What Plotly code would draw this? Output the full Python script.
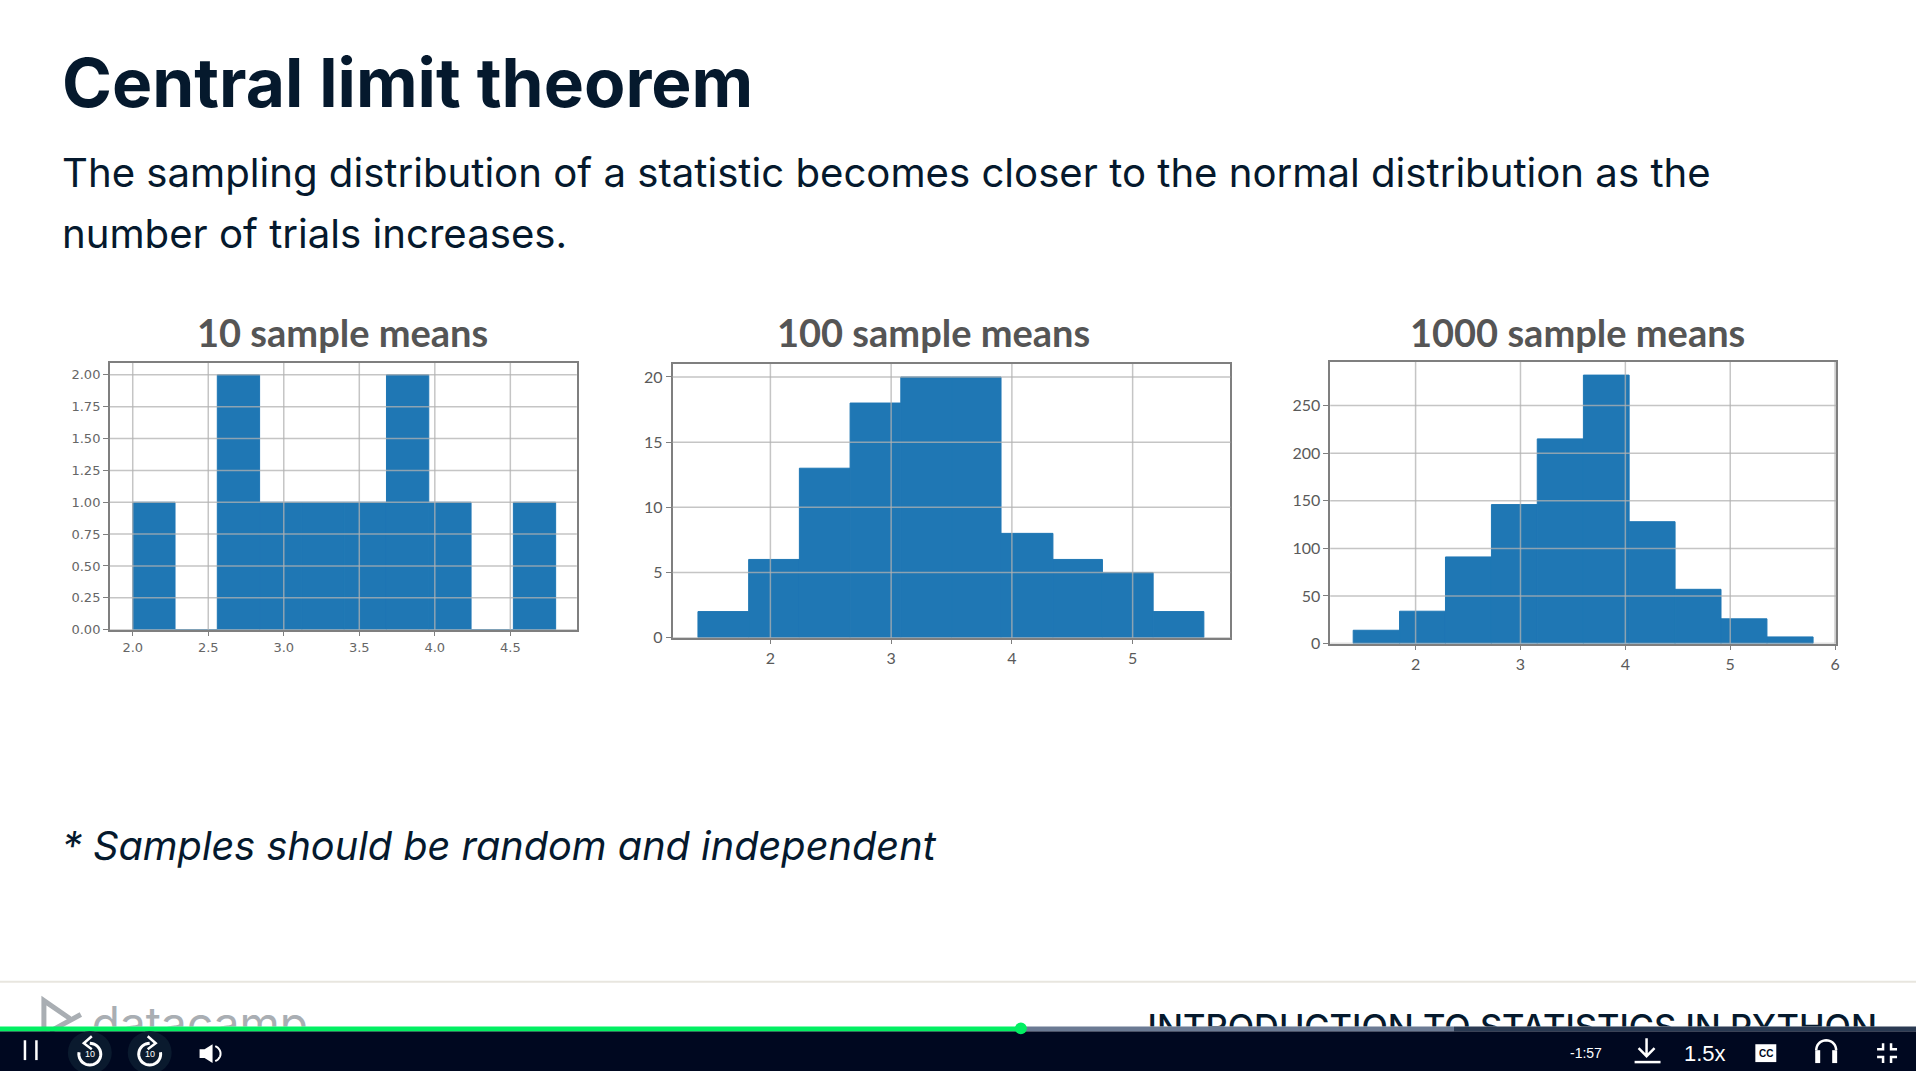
import numpy as np
import plotly.graph_objects as go

# 10 sample means
edges_10 = [2.0, 2.28, 2.56, 2.84, 3.12, 3.40, 3.68, 3.96, 4.24, 4.52, 4.80]
counts_10 = [1, 0, 2, 1, 1, 1, 2, 1, 0, 1]
xticks_10 = [2.0, 2.5, 3.0, 3.5, 4.0, 4.5]
xlabels_10 = ["2.0", "2.5", "3.0", "3.5", "4.0", "4.5"]
yticks_10 = [0, 0.25, 0.5, 0.75, 1, 1.25, 1.5, 1.75, 2]
ylabels_10 = ["0.00", "0.25", "0.50", "0.75", "1.00", "1.25", "1.50", "1.75", "2.00"]

# 100 sample means
edges_100 = [1.40, 1.82, 2.24, 2.66, 3.08, 3.50, 3.91, 4.34, 4.75, 5.17, 5.59]
counts_100 = [2, 6, 13, 18, 20, 20, 8, 6, 5, 2]
xticks_100 = [2, 3, 4, 5]
yticks_100 = [0, 5, 10, 15, 20]

# 1000 sample means
edges_1000 = [1.405, 1.847, 2.285, 2.723, 3.16, 3.60, 4.036, 4.474, 4.912, 5.35, 5.79]
counts_1000 = [14, 34, 91, 146, 215, 282, 128, 57, 26, 7]
xticks_1000 = [2, 3, 4, 5, 6]
yticks_1000 = [0, 50, 100, 150, 200, 250]

W, H = 1920, 1080
BLUE = "#1f77b4"
NAVY = "#05192d"
BAR_DARK = "#000820"
GRID = "rgba(178,178,178,0.75)"

panels = [
    dict(title="10 sample means", edges=edges_10, counts=counts_10,
         xticks=xticks_10, xlabels=xlabels_10, yticks=yticks_10, ylabels=ylabels_10,
         box=(110, 578, 366, 635), xr=[1.848, 4.94], yr=[0, 2.093],
         tickfont=dict(family="DejaVu Sans", size=13, color="#666666"), cx=343),
    dict(title="100 sample means", edges=edges_100, counts=counts_100,
         xticks=xticks_100, xlabels=[str(v) for v in xticks_100],
         yticks=yticks_100, ylabels=[str(v) for v in yticks_100],
         box=(674, 1233, 367, 643), xr=[1.19, 5.81], yr=[0, 21.0],
         tickfont=dict(family="Lato", size=16, color="#5a5a5a"), cx=935),
    dict(title="1000 sample means", edges=edges_1000, counts=counts_1000,
         xticks=xticks_1000, xlabels=[str(v) for v in xticks_1000],
         yticks=yticks_1000, ylabels=[str(v) for v in yticks_1000],
         box=(1333, 1840, 365, 649), xr=[1.186, 6.01], yr=[0, 295.8],
         tickfont=dict(family="Lato", size=16, color="#5a5a5a"), cx=1581),
]

fig = go.Figure()
layout = {}
shapes = []
annotations = []

for i, p in enumerate(panels, start=1):
    e = np.array(p["edges"])
    xname = "xaxis" if i == 1 else f"xaxis{i}"
    yname = "yaxis" if i == 1 else f"yaxis{i}"
    xref = "x" if i == 1 else f"x{i}"
    yref = "y" if i == 1 else f"y{i}"
    # thin outline in the bar colour hides the seams between neighbouring bars
    fig.add_trace(go.Bar(x=(e[:-1] + e[1:]) / 2, y=p["counts"], width=np.diff(e),
                         marker=dict(color=BLUE, line=dict(color=BLUE, width=1)),
                         xaxis=xref, yaxis=yref, showlegend=False))
    left, right, top, bottom = p["box"]
    common = dict(showgrid=False, zeroline=False, showline=True, mirror=True,
                  linecolor="#7f7f7f", linewidth=1.5, ticks="outside", ticklen=5,
                  tickcolor="#7f7f7f", tickfont=p["tickfont"])
    layout[xname] = dict(common, domain=[left / W, right / W], range=p["xr"], anchor=yref,
                         tickmode="array", tickvals=p["xticks"], ticktext=p["xlabels"])
    layout[yname] = dict(common, domain=[1 - bottom / H, 1 - top / H], range=p["yr"], anchor=xref,
                         tickmode="array", tickvals=p["yticks"], ticktext=p["ylabels"])
    # matplotlib draws its grid on top of the bars
    for v in p["xticks"]:
        shapes.append(dict(type="line", layer="above", xref=xref, yref=f"{yref} domain",
                           x0=v, x1=v, y0=0, y1=1, line=dict(color=GRID, width=1.5)))
    for v in p["yticks"]:
        shapes.append(dict(type="line", layer="above", xref=f"{xref} domain", yref=yref,
                           x0=0, x1=1, y0=v, y1=v, line=dict(color=GRID, width=1.5)))
    annotations.append(dict(text=f"<b>{p['title']}</b>", xref="x4", yref="y4", x=p["cx"], y=335,
                            showarrow=False, font=dict(family="Lato", size=38, color="#555555")))

# pixel axes for the slide and the player bar
hidden = dict(visible=False, fixedrange=True)
layout["xaxis4"] = dict(hidden, domain=[0, 1], range=[0, W], anchor="y4")
layout["yaxis4"] = dict(hidden, domain=[0, 1], range=[H, 0], anchor="x4")
layout["xaxis5"] = dict(hidden, domain=[0, 1], range=[0, W], anchor="y5")
layout["yaxis5"] = dict(hidden, domain=[1 - 1035 / H, 1 - 990 / H], range=[1035, 990], anchor="x5")

# footer text is cut off by the player bar, so it goes in a clipped trace
fig.add_trace(go.Scatter(x=[92], y=[1014], mode="text", text=["datacamp"], textposition="bottom right",
                         textfont=dict(family="Inter", size=46, color="#a9aeb3"),
                         xaxis="x5", yaxis="y5", showlegend=False, hoverinfo="skip"))
fig.add_trace(go.Scatter(x=[1150], y=[1022], mode="text", text=["INTRODUCTION TO STATISTICS IN PYTHON"],
                         textposition="bottom right",
                         textfont=dict(family="Inter", size=34.4, color=NAVY, weight=500),
                         xaxis="x5", yaxis="y5", showlegend=False, hoverinfo="skip"))


def slide_text(text, x, y, size, color=NAVY, family="Inter", weight=400, style="normal", anchor="left"):
    annotations.append(dict(text=text, xref="x4", yref="y4", x=x, y=y, xanchor=anchor, showarrow=False,
                            font=dict(family=family, size=size, color=color, weight=weight, style=style)))


def shape(kind="path", **kw):
    shapes.append(dict(type=kind, layer="above", xref="x4", yref="y4", **kw))


def arc(cx, cy, r, a0, a1):
    a = np.radians(np.arange(a0, a1 + 1, 10))
    pts = [f"{cx + r * np.cos(t):.1f},{cy + r * np.sin(t):.1f}" for t in a]
    return "M" + " L".join(pts)


slide_text("Central limit theorem", 60, 83, 67.6, weight=700)
slide_text("The sampling distribution of a statistic becomes closer to the normal distribution as the", 60, 174, 40.15)
slide_text("number of trials increases.", 60, 235, 40.15)
slide_text("* Samples should be random and independent", 60, 853, 39.7, style="italic")

# footer rule and logo mark
shape("line", x0=0, x1=W, y0=990, y1=990, line=dict(color="#e8e6df", width=2))
shape(path="M44,1040 L44,1009 L70,1027 M81,1023 L50,1040", line=dict(color="#a9aeb3", width=5))

# player bar
shape("rect", x0=0, x1=W, y0=1040, y1=H, fillcolor=BAR_DARK, line=dict(width=0))
shape("rect", x0=0, x1=1023, y0=1035, y1=1040, fillcolor="#03ef62", line=dict(width=0))
shape("rect", x0=1023, x1=1457, y0=1035, y1=1040, fillcolor="#6b7a93", line=dict(width=0))
shape("rect", x0=1457, x1=W, y0=1035, y1=1040, fillcolor="#2a3a52", line=dict(width=0))
shape("circle", x0=1017, x1=1029, y0=1031, y1=1043, fillcolor="#03ef62", line=dict(width=0))

white = dict(color="white", width=2.5)
shape("line", x0=25, x1=25, y0=1049, y1=1069, line=white)
shape("line", x0=36.5, x1=36.5, y0=1049, y1=1069, line=white)
for cx in (90, 150):
    shape("circle", x0=cx - 22, x1=cx + 22, y0=1040, y1=1083, fillcolor="#0a1a2e", line=dict(width=0))
shape(path=arc(90, 1063, 11, -90, 190), line=dict(color="white", width=3))
shape(path="M92,1045 L84,1052 L92,1058", line=white)
shape(path=arc(150, 1063, 11, -10, 270), line=dict(color="white", width=3))
shape(path="M148,1045 L156,1052 L148,1058", line=white)
slide_text("10", 90, 1063, 9, color="white", family="Liberation Sans", anchor="center")
slide_text("10", 150, 1063, 9, color="white", family="Liberation Sans", anchor="center")

shape(path="M200,1058 L205,1058 L213,1053 L213,1072 L205,1067 L200,1067 Z", fillcolor="white", line=dict(width=0))
shape(path=arc(213, 1062.5, 8, -70, 70), line=dict(color="white", width=2))

slide_text("-1:57", 1589, 1062, 14, color="white", family="Liberation Sans", anchor="center")
shape(path="M1650,1047 L1650,1065 M1642,1057 L1650,1065 L1658,1057", line=white)
shape("line", x0=1638, x1=1664, y0=1071, y1=1071, line=white)
slide_text("1.5x", 1709, 1062, 22, color="white", family="Liberation Sans", anchor="center")
shape("rect", x0=1759, x1=1780, y0=1053, y1=1071, fillcolor="white", line=dict(width=0))
slide_text("<b>CC</b>", 1769.5, 1062, 10, color=BAR_DARK, family="Liberation Sans", anchor="center")
shape(path=arc(1830, 1059, 10, 180, 360), line=dict(color="white", width=2.5))
shape("rect", x0=1819, x1=1824, y0=1059, y1=1072, fillcolor="white", line=dict(width=0))
shape("rect", x0=1836, x1=1841, y0=1059, y1=1072, fillcolor="white", line=dict(width=0))
shape(path="M1887,1052 L1887,1058 L1881,1058 M1895,1052 L1895,1058 L1901,1058 "
           "M1887,1072 L1887,1066 L1881,1066 M1895,1072 L1895,1066 L1901,1066", line=white)

fig.update_layout(width=W, height=H, margin=dict(l=0, r=0, t=0, b=0), paper_bgcolor="white",
                  plot_bgcolor="rgba(0,0,0,0)", showlegend=False, shapes=shapes,
                  annotations=annotations, **layout)

fig.write_html("out.html", config={"displayModeBar": False},
               post_script="document.body.style.margin='0';document.body.style.overflow='hidden';")
